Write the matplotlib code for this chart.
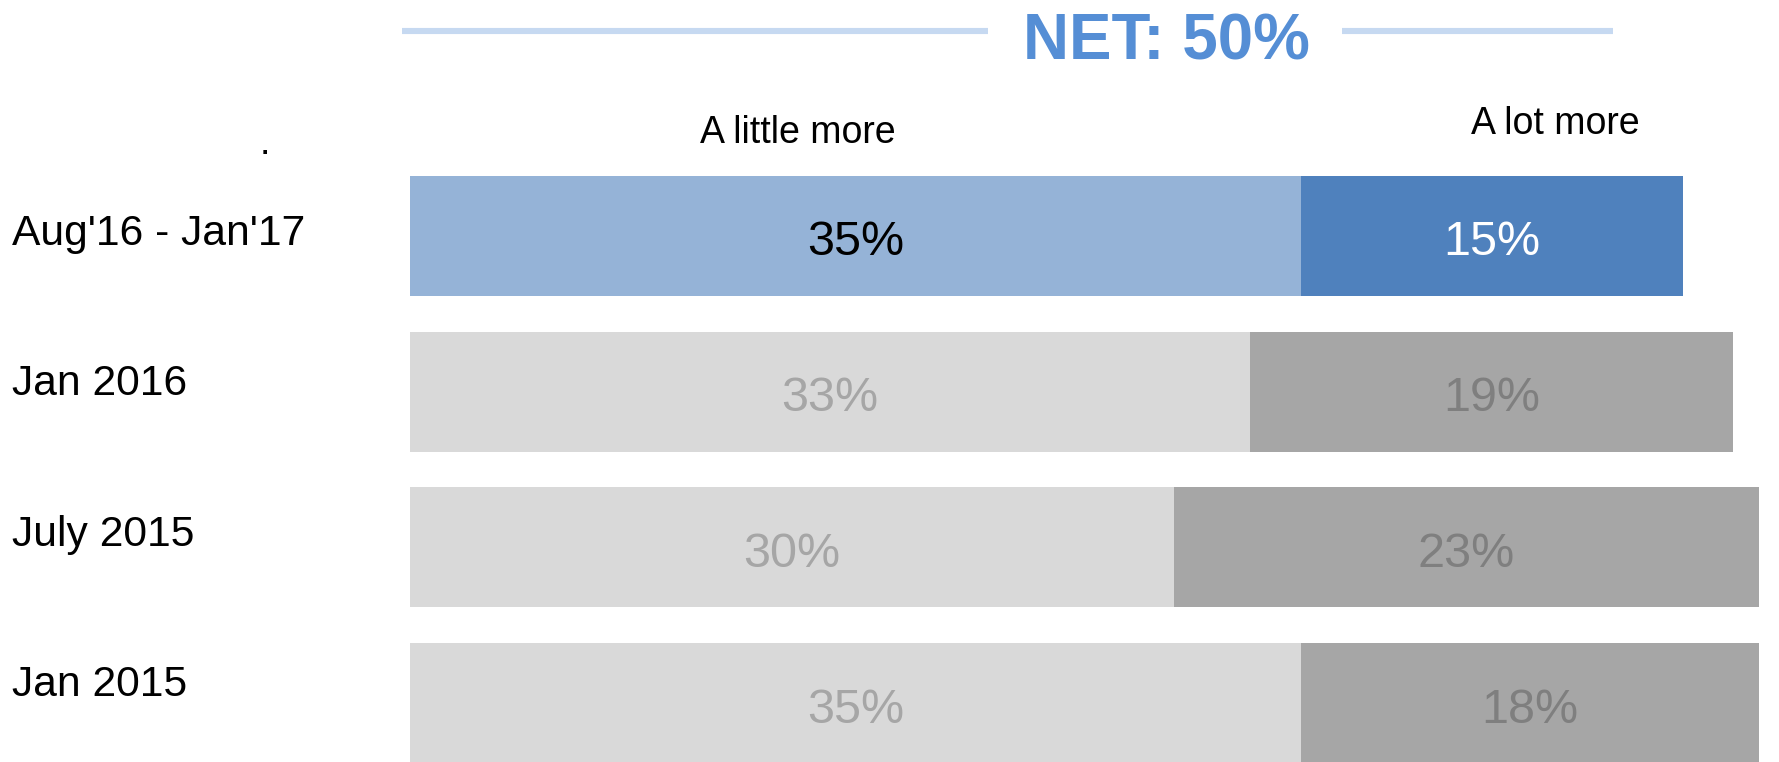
import matplotlib
matplotlib.use("Agg")
import matplotlib.pyplot as plt

plt.rcParams["font.family"] = ["Liberation Sans", "DejaVu Sans"]

periods = ["Aug'16 - Jan'17", "Jan 2016", "July 2015", "Jan 2015"]
little_more = [35, 33, 30, 35]
lot_more = [15, 19, 23, 18]
net_label = "NET: 50%"
segment_names = ["A little more", "A lot more"]

W, H, DPI = 1779, 762, 100
fig = plt.figure(figsize=(W / DPI, H / DPI), dpi=DPI)
ax = fig.add_axes([0, 0, 1, 1])

# pixel layout: bars start at x=410, 25.45 px per percent, rows every 155.7 px
px_per_pct = 25.45
x0 = 410
row_px = 155.7
first_row = 236
ax.set_xlim(-x0 / px_per_pct, (W - x0) / px_per_pct)
ax.set_ylim((H - first_row) / row_px, -first_row / row_px)
ax.axis("off")

light = ["#95B3D7", "#D9D9D9", "#D9D9D9", "#D9D9D9"]
dark = ["#4F81BD", "#A6A6A6", "#A6A6A6", "#A6A6A6"]
light_txt = ["black", "#A6A6A6", "#A6A6A6", "#A6A6A6"]
dark_txt = ["white", "#7F7F7F", "#7F7F7F", "#7F7F7F"]

ypos = list(range(len(periods)))
bh = 120 / row_px
ax.barh(ypos, little_more, height=bh, color=light, linewidth=0)
ax.barh(ypos, lot_more, left=little_more, height=bh, color=dark, linewidth=0)

val_fs = 34.9
cap_off = -14.0  # points, drop baseline so the digits sit centred on the bar
for i in ypos:
    a, b = little_more[i], lot_more[i]
    ax.annotate(f"{a}%", xy=(a / 2, i), xytext=(0, cap_off), textcoords="offset points",
                ha="center", va="baseline", fontsize=val_fs, color=light_txt[i])
    ax.annotate(f"{b}%", xy=(a + b / 2, i), xytext=(0, cap_off), textcoords="offset points",
                ha="center", va="baseline", fontsize=val_fs, color=dark_txt[i])

# period names run on a slightly tighter pitch than the bars
lab_step = 150.5 / row_px
lab_start = 8.8 / row_px
for i in ypos:
    ax.annotate(periods[i], xy=(0, lab_start + lab_step * i), xycoords=("figure fraction", "data"),
                xytext=(12 * 0.72, 0), textcoords="offset points",
                ha="left", va="baseline", fontsize=30.7, color="black")


def fx(px):
    return px / W


def fy(px):
    return 1 - px / H


# header: NET total with rules either side
fig.text(fx(1166), fy(59.5), net_label, ha="center", va="baseline",
         fontsize=45.9, fontweight="bold", color="#558ED5")
for xa, xb in [(402, 988), (1342, 1613)]:
    fig.add_artist(plt.Line2D([fx(xa), fx(xb)], [fy(30.8), fy(30.8)],
                              color="#C6D9F1", linewidth=4.4, solid_capstyle="butt"))

fig.text(fx(798), fy(142.7), segment_names[0], ha="center", va="baseline", fontsize=27)
fig.text(fx(1555), fy(134), segment_names[1], ha="center", va="baseline", fontsize=27)
fig.text(fx(265), fy(154), ".", ha="center", va="baseline", fontsize=27)

fig.savefig("out.png", dpi=DPI, facecolor="white")
